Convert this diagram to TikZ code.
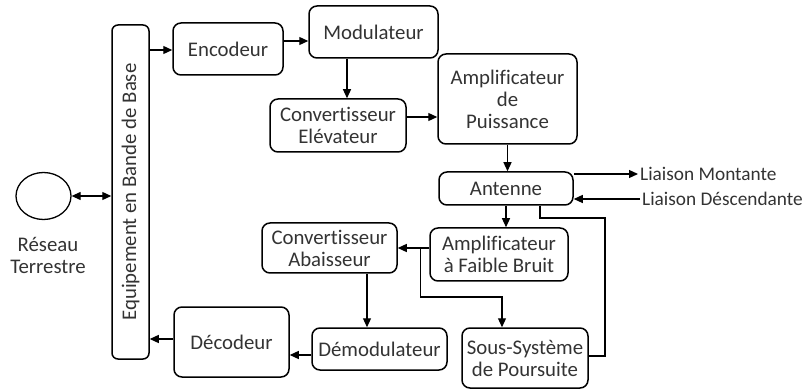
\documentclass[tikz,border=0pt]{standalone}
\usepackage{fontspec}
\setmainfont{Carlito}[Ligatures = NoCommon]
\usepackage{graphicx}
\usepackage{tikz}
\usetikzlibrary{shapes, shapes.geometric, arrows.meta, calc}
\definecolor{gristexte}{HTML}{333333}
\tikzstyle{bloc} = [
    rectangle,
    rounded corners = 8pt,
    line width = 1.5pt,
    text centered,
    align = center,
    inner sep = 0pt,
    draw = black,
    text = gristexte,
]
\tikzstyle{lien} = [line width = 1.2pt]
\tikzstyle{etiquette} = [anchor = west, inner sep = 2pt, text = gristexte, font = \fontsize{19.3}{22}\selectfont]

\begin{document}
\begin{tikzpicture} [x = 1pt, y = -1pt, >={Triangle[length = 9pt, width = 8pt]}, font = \fontsize{20.8}{22}\selectfont]
    \useasboundingbox (0, 0) rectangle (809, 390);

    \node (Reseau) [ellipse, draw = black, line width = 1.3pt, minimum width = 55pt, minimum height = 47pt, inner sep = 0pt] at (43.5, 196) {};
    \node (Terrestre) [align = center, text = gristexte] at (48, 255) {Réseau\\Terrestre};

    \node (BandeBase) [bloc, rounded corners = 6pt, minimum width = 37pt, minimum height = 334pt] at (130.5, 192) {\rotatebox{90}{Equipement en Bande de Base}};

    \node (Encodeur) [bloc, minimum width = 110pt, minimum height = 52pt] at (228, 49) {Encodeur};
    \node (Modulateur) [bloc, minimum width = 129pt, minimum height = 52pt] at (373.5, 32) {Modulateur};
    \node (ConvElev) [bloc, minimum width = 136pt, minimum height = 53pt] at (338, 125.5) {Convertisseur\\Elévateur};
    \node (AmpliP) [bloc, minimum width = 139pt, minimum height = 90pt] at (507.5, 99) {Amplificateur\\de\\Puissance};
    \node (Antenne) [bloc, minimum width = 134pt, minimum height = 33pt] at (506, 188.5) {Antenne};

    \node (Montante) [etiquette] at (638, 174) {Liaison Montante};
    \node (Descendante) [etiquette] at (640, 199) {Liaison Déscendante};

    \node (LNA) [bloc, minimum width = 138pt, minimum height = 53pt] at (499, 254.5) {Amplificateur\\à Faible Bruit};
    \node (ConvAbais) [bloc, minimum width = 135pt, minimum height = 50pt] at (329.5, 248) {Convertisseur\\Abaisseur};
    \node (Demodulateur) [bloc, minimum width = 135pt, minimum height = 42pt] at (379.5, 349) {Démodulateur};
    \node (SousSysteme) [bloc, minimum width = 126pt, minimum height = 60pt] at (525, 358) {Sous-Système\\de Poursuite};
    \node (Decodeur) [bloc, minimum width = 115pt, minimum height = 70pt] at (231.5, 342) {Décodeur};

    % voie montante
    \draw[lien, <->] (Reseau.east) -- (BandeBase.west |- Reseau.east);
    \draw[lien, ->] (BandeBase.east |- 0, 50) -- (Encodeur.west |- 0, 50);
    \draw[lien, ->] (Encodeur.east |- 0, 41) -- (Modulateur.west |- 0, 41);
    \draw[lien, ->] (Modulateur.south -| 347, 0) -- (ConvElev.north -| 347, 0);
    \draw[lien, ->] (ConvElev.east |- 0, 117) -- (AmpliP.west |- 0, 117);
    \draw[lien, ->] (AmpliP.south) -- (AmpliP.south |- Antenne.north);
    \draw[lien, ->] (Antenne.east |- Montante.west) -- (Montante.west);
    \draw[lien, ->] (Descendante.west) -- (Antenne.east |- Descendante.west);

    % voie descendante
    \draw[lien, ->] (Antenne.south) -- (Antenne.south |- LNA.north);
    \draw[lien, ->] (LNA.west |- ConvAbais) -- (ConvAbais.east);
    \coordinate (Branche) at ($(ConvAbais.east) + (23, 0)$);
    \draw[lien, ->] (Branche) |- (502, 297) -- (SousSysteme.north -| 502, 0);
    \draw[lien] (Antenne.south -| 540, 0) |- (605, 218) |- (SousSysteme.east |- 0, 356);
    \draw[lien, ->] (ConvAbais.south -| 367, 0) -- (Demodulateur.north -| 367, 0);
    \draw[lien, ->] (Demodulateur.west |- 0, 355) -- (Decodeur.east |- 0, 355);
    \draw[lien, ->] (Decodeur.west |- 0, 339) -- (BandeBase.east |- 0, 339);
\end{tikzpicture}
\end{document}
